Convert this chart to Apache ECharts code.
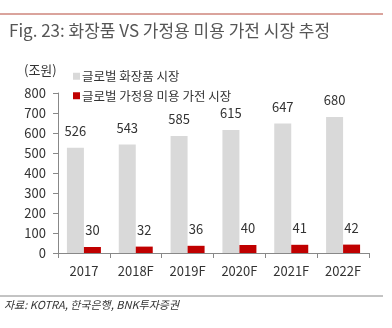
<!DOCTYPE html>
<html><head><meta charset="utf-8">
<script src="https://cdn.jsdelivr.net/npm/echarts@6/dist/echarts.min.js"></script>
<style>html,body{margin:0;padding:0;background:#fff}#c{width:392px;height:328px}</style>
</head><body><div id="c"></div>
<script>
var categories = ['2017','2018F','2019F','2020F','2021F','2022F'];
var cosmetics = [526,543,585,615,647,680];
var beautyDevices = [30,32,36,40,41,42];
var yTicks = [0,100,200,300,400,500,600,700,800];
var seriesNames = ['글로벌 화장품 시장','글로벌 가정용 미용 가전 시장'];
var titleText = 'Fig. 23: 화장품 VS 가정용 미용 가전 시장 추정';
var unitText = '(조원)';
var sourceText = '자료: KOTRA, 한국은행, BNK투자증권';

var font = '"Noto Sans CJK KR", "Noto Sans", sans-serif';
var chart = echarts.init(document.getElementById('c'));
chart.setOption({
  animation:false,
  textStyle:{fontFamily:font},
  title:{text:titleText,left:4,top:17,textStyle:{fontSize:17,fontWeight:'normal',color:'#555',fontFamily:font}},
  legend:{orient:'vertical',left:68,top:65,itemWidth:7,itemHeight:7,itemGap:7,icon:'rect',
    textStyle:{fontSize:12.5,color:'#333',padding:[0,0,0,-3]},data:seriesNames},
  grid:{left:58,right:23,top:93,bottom:75},
  xAxis:{type:'category',data:categories,
    axisLine:{lineStyle:{color:'#888'}},
    axisTick:{show:true,inside:false,length:5,lineStyle:{color:'#888'}},
    axisLabel:{color:'#333',fontSize:13,margin:12}},
  yAxis:{type:'value',min:0,max:800,interval:100,
    axisLine:{show:true,lineStyle:{color:'#888'}},
    axisTick:{show:true,length:5,lineStyle:{color:'#888'}},
    splitLine:{show:false},
    axisLabel:{color:'#333',fontSize:13,margin:12}},
  series:[
    {name:seriesNames[0],type:'bar',data:cosmetics,barWidth:17,barGap:'0%',
     itemStyle:{color:'#d9d9d9'},
     label:{show:true,position:'top',distance:10,color:'#333',fontSize:13}},
    {name:seriesNames[1],type:'bar',data:beautyDevices,barWidth:17,barGap:'0%',
     itemStyle:{color:'#c00000'},
     label:{show:true,position:'top',distance:10,color:'#333',fontSize:13}}
  ],
  graphic:[
    {type:'line',shape:{x1:0,y1:14,x2:383,y2:14},style:{stroke:'#b5483a',lineWidth:1}},
    {type:'text',left:24,top:64,style:{text:unitText,fill:'#333',font:'13px '+font}},
    {type:'line',shape:{x1:0,y1:296,x2:383,y2:296},style:{stroke:'#888',lineWidth:1}},
    {type:'text',left:4,top:299,style:{text:sourceText,fill:'#333',font:'italic 11px '+font}}
  ]
});
</script></body></html>
